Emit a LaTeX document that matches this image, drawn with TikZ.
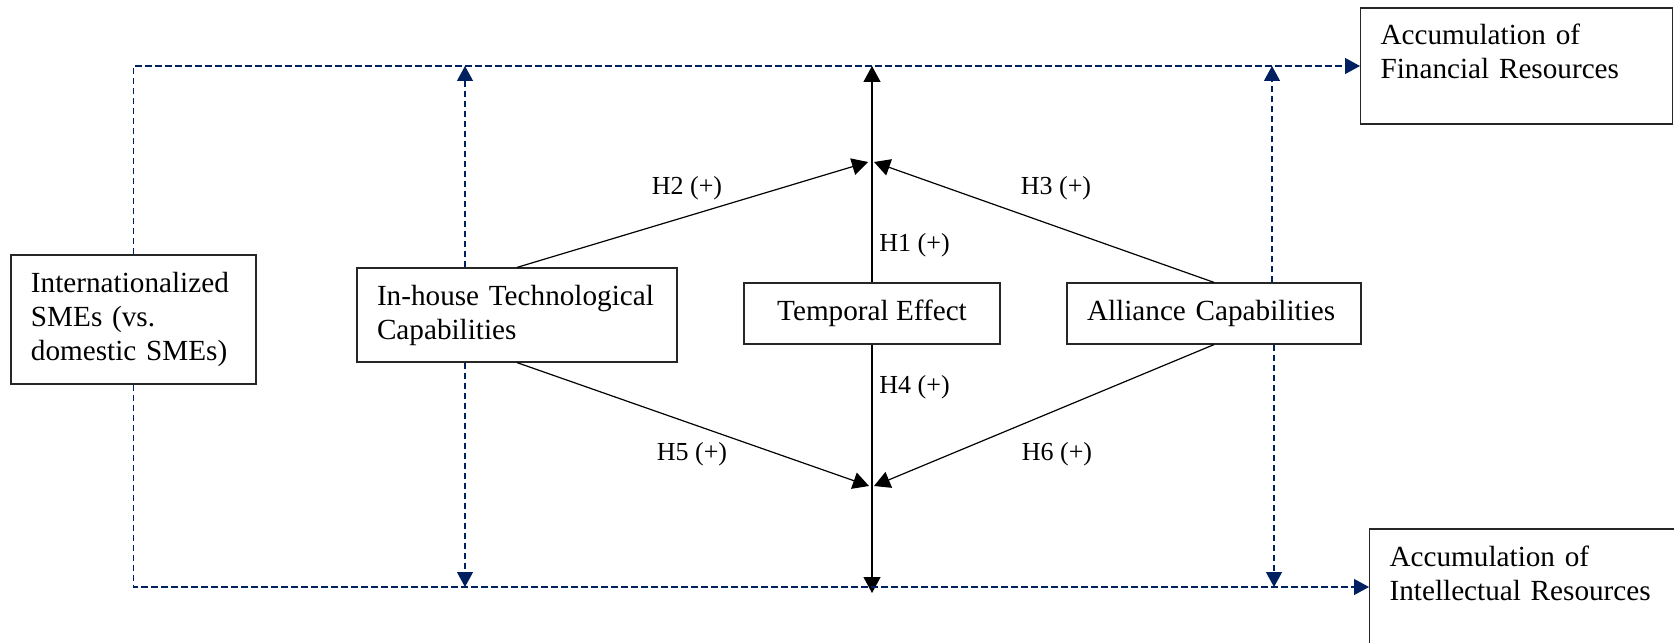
\documentclass[tikz,border=0pt]{standalone}
\usepackage{fontspec}
\setmainfont{Liberation Serif}
\usetikzlibrary{arrows.meta,positioning}
\definecolor{linkblue}{HTML}{002060}

\begin{document}
\begin{tikzpicture}[
    x=0.5pt, y=-0.5pt,
    font=\fontsize{14.6}{17}\selectfont,
    >={Triangle[length=8pt,width=8.5pt]},
    box/.style={draw=black!85, line width=0.6pt, inner xsep=10pt, align=left},
    resbox/.style={box, anchor=west, text width=136pt, minimum height=58pt, inner ysep=8.5pt, text height=10pt, text depth=31pt},
    hyp/.style={font=\fontsize{13}{15}\selectfont, inner sep=1pt},
    path/.style={->, line width=0.6pt},
    link/.style={line width=0.6pt, draw=linkblue, dash pattern=on 3.2pt off 1.8pt, -{Triangle[length=7.5pt,width=8pt]}}
]
    \useasboundingbox (0,0) rectangle (1674,642);

    % Nodes
    \node[box, text width=102.5pt, minimum height=64.5pt] (intl) at (133.5,319.5) {Internationalized\\SMEs (vs.\\domestic SMEs)};
    \node[box, text width=140pt, minimum height=47pt] (inhouse) at (517,315) {In-house Technological\\Capabilities};
    \node[box, align=center, minimum width=128pt, minimum height=30.5pt] (temporal) at (872,313.5) {Temporal Effect};
    \node[box, text width=127pt, minimum height=30.5pt] (alliance) at (1214,313.5) {Alliance Capabilities};
    \node[resbox] (financial) at (1360,66) {Accumulation of\\Financial Resources};
    \node[resbox] (intellectual) at (1369,587) {Accumulation of\\Intellectual Resources};

    % Junctions
    \coordinate (upjoin) at (871,162);
    \coordinate (downjoin) at (871,486);
    \coordinate (ihup) at ([xshift=-26pt]inhouse.north);
    \coordinate (ihdown) at ([xshift=-26pt]inhouse.south);
    \coordinate (alup) at ([xshift=29pt]alliance.north);
    \coordinate (aldown) at ([xshift=30pt]alliance.south);

    % Hypotheses
    \draw[path] (temporal.north) -- (temporal.north |- financial.west);
    \draw[path, shorten >=-3pt] (temporal.south) -- (temporal.south |- intellectual.west);
    \draw[path] (inhouse.north) -- ([xshift=-1.5pt]upjoin);
    \draw[path] (alliance.north) -- ([xshift=1.5pt]upjoin);
    \draw[path] (inhouse.south) -- ([xshift=-1pt]downjoin);
    \draw[path] (alliance.south) -- ([xshift=1.5pt]downjoin);

    \node[hyp, anchor=west] (h1) at (877,245) {H1 (+)};
    \node[hyp] (h2) at (687,188) {H2 (+)};
    \node[hyp] (h3) at (1056,188) {H3 (+)};
    \node[hyp, anchor=west] (h4) at (877,387) {H4 (+)};
    \node[hyp] (h5) at (692,454) {H5 (+)};
    \node[hyp] (h6) at (1057,454) {H6 (+)};

    % Controls
    \draw[link] (intl.north) |- (financial.west);
    \draw[link] (intl.south) |- (intellectual.west);
    \draw[link] (ihup) -- (ihup |- financial.west);
    \draw[link] (ihdown) -- (ihdown |- intellectual.west);
    \draw[link] (alup) -- (alup |- financial.west);
    \draw[link] (aldown) -- (aldown |- intellectual.west);
\end{tikzpicture}
\end{document}
